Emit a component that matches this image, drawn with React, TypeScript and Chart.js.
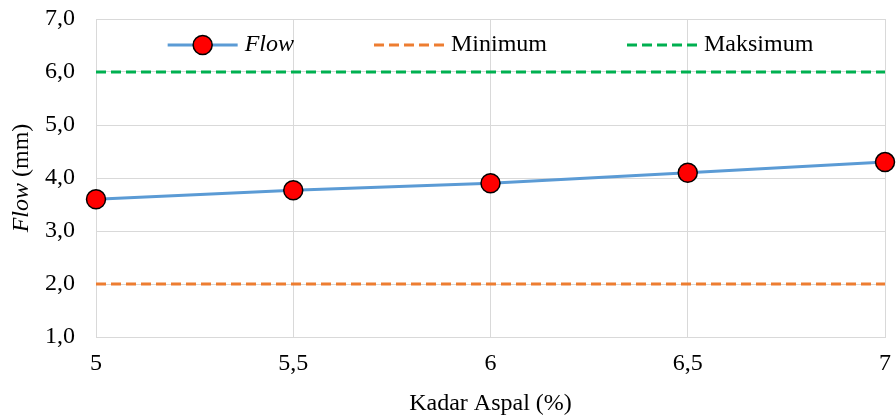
import { useEffect, useRef } from "react";
import { Chart, registerables } from "chart.js";

Chart.register(...registerables);

// Asphalt content (%) on the x axis and the measured flow (mm)
const kadarAspal = [5, 5.5, 6, 6.5, 7];
const flowValues = [3.6, 3.77, 3.9, 4.1, 4.3];

// Specification limits for flow
const minimumFlow = 2.0;
const maksimumFlow = 6.0;

const xMin = 5;
const xMax = 7;
const xStep = 0.5;
const yMin = 1;
const yMax = 7;
const yStep = 1;

const seriesLabels = ["Flow", "Minimum", "Maksimum"];
const xAxisTitle = "Kadar Aspal (%)";
const yAxisTitleItalic = "Flow";
const yAxisTitleRest = " (mm)";

const FONT = '"Liberation Serif", "Times New Roman", serif';
const TEXT_COLOR = "#000000";
const GRID_COLOR = "#d9d9d9";
const FLOW_COLOR = "#5b9bd5";
const MIN_COLOR = "#ed7d31";
const MAX_COLOR = "#00b050";
const DASH = [10, 5];

const comma = (v: number, digits?: number) =>
  (digits === undefined ? String(v) : v.toFixed(digits)).replace(".", ",");

// Draws the legend row and both axis titles (the y title mixes italic and upright text)
const textPlugin = {
  id: "flowTexts",
  afterDraw(chart: any) {
    const ctx: CanvasRenderingContext2D = chart.ctx;
    const area = chart.chartArea;
    const midX = (area.left + area.right) / 2;
    const midY = (area.top + area.bottom) / 2;
    ctx.save();
    ctx.fillStyle = TEXT_COLOR;
    ctx.textBaseline = "middle";

    // x axis title
    ctx.font = `24px ${FONT}`;
    ctx.textAlign = "center";
    ctx.fillText(xAxisTitle, midX, chart.height - 15);

    // y axis title
    ctx.save();
    ctx.translate(22, midY);
    ctx.rotate(-Math.PI / 2);
    ctx.textAlign = "left";
    ctx.font = `italic 24px ${FONT}`;
    const wItalic = ctx.measureText(yAxisTitleItalic).width;
    ctx.font = `24px ${FONT}`;
    const wRest = ctx.measureText(yAxisTitleRest).width;
    const startX = -(wItalic + wRest) / 2;
    ctx.font = `italic 24px ${FONT}`;
    ctx.fillText(yAxisTitleItalic, startX, 0);
    ctx.font = `24px ${FONT}`;
    ctx.fillText(yAxisTitleRest, startX + wItalic, 0);
    ctx.restore();

    // legend
    const symbolW = 70;
    const textGap = 7;
    const itemGap = 80;
    const fonts = [`italic 24px ${FONT}`, `24px ${FONT}`, `24px ${FONT}`];
    const widths = seriesLabels.map((label, i) => {
      ctx.font = fonts[i];
      return symbolW + textGap + ctx.measureText(label).width;
    });
    const total = widths.reduce((a, b) => a + b, 0) + itemGap * (widths.length - 1);
    let x = midX - total / 2;
    const y = area.top + 26;
    seriesLabels.forEach((label, i) => {
      const ds = chart.data.datasets[i];
      ctx.save();
      ctx.strokeStyle = ds.borderColor;
      ctx.lineWidth = ds.borderWidth;
      ctx.setLineDash(ds.borderDash || []);
      ctx.beginPath();
      ctx.moveTo(x, y);
      ctx.lineTo(x + symbolW, y);
      ctx.stroke();
      ctx.restore();
      if (i === 0) {
        ctx.save();
        ctx.beginPath();
        ctx.arc(x + symbolW / 2, y, ds.pointRadius, 0, Math.PI * 2);
        ctx.fillStyle = ds.pointBackgroundColor;
        ctx.fill();
        ctx.lineWidth = ds.pointBorderWidth;
        ctx.strokeStyle = ds.pointBorderColor;
        ctx.stroke();
        ctx.restore();
      }
      ctx.font = fonts[i];
      ctx.textAlign = "left";
      ctx.fillStyle = TEXT_COLOR;
      ctx.fillText(label, x + symbolW + textGap, y);
      x += widths[i] + itemGap;
    });

    ctx.restore();
  },
};

export default function App() {
  const canvasRef = useRef<HTMLCanvasElement | null>(null);

  useEffect(() => {
    if (!canvasRef.current) return;
    const chart = new Chart(canvasRef.current, {
      type: "line",
      data: {
        datasets: [
          {
            label: seriesLabels[0],
            data: kadarAspal.map((x, i) => ({ x, y: flowValues[i] })),
            borderColor: FLOW_COLOR,
            borderWidth: 3,
            pointRadius: 9.5,
            pointHoverRadius: 9.5,
            pointBackgroundColor: "#ff0000",
            pointBorderColor: "#000000",
            pointBorderWidth: 1.5,
            tension: 0,
            clip: false,
          },
          {
            label: seriesLabels[1],
            data: [
              { x: xMin, y: minimumFlow },
              { x: xMax, y: minimumFlow },
            ],
            borderColor: MIN_COLOR,
            borderWidth: 3,
            borderDash: DASH,
            pointRadius: 0,
          },
          {
            label: seriesLabels[2],
            data: [
              { x: xMin, y: maksimumFlow },
              { x: xMax, y: maksimumFlow },
            ],
            borderColor: MAX_COLOR,
            borderWidth: 3,
            borderDash: DASH,
            pointRadius: 0,
          },
        ],
      },
      options: {
        responsive: false,
        animation: false,
        events: [],
        layout: { padding: { top: 19, right: 9, left: 0, bottom: 0 } },
        plugins: {
          legend: { display: false },
          tooltip: { enabled: false },
        },
        scales: {
          x: {
            type: "linear",
            min: xMin,
            max: xMax,
            grid: { color: GRID_COLOR, lineWidth: 1, drawTicks: false },
            border: { color: GRID_COLOR, width: 1 },
            ticks: {
              stepSize: xStep,
              autoSkip: false,
              maxRotation: 0,
              padding: 12,
              color: TEXT_COLOR,
              font: { family: FONT, size: 24 },
              callback: (v: any) => comma(Number(v)),
            },
            afterFit: (scale: any) => {
              scale.height = 82;
              scale.paddingLeft = 0;
              scale.paddingRight = 0;
            },
          },
          y: {
            min: yMin,
            max: yMax,
            grid: { color: GRID_COLOR, lineWidth: 1, drawTicks: false },
            border: { color: GRID_COLOR, width: 1 },
            ticks: {
              stepSize: yStep,
              padding: 21,
              color: TEXT_COLOR,
              font: { family: FONT, size: 24 },
              callback: (v: any) => comma(Number(v), 1),
            },
            afterFit: (scale: any) => {
              scale.width = 96;
              scale.paddingTop = 0;
              scale.paddingBottom = 0;
            },
          },
        },
      },
      plugins: [textPlugin],
    });
    return () => chart.destroy();
  }, []);

  return (
    <div style={{ position: "fixed", left: 0, top: 0, width: 896, height: 419, background: "#ffffff" }}>
      <canvas ref={canvasRef} width={896} height={419} style={{ display: "block" }} />
    </div>
  );
}
